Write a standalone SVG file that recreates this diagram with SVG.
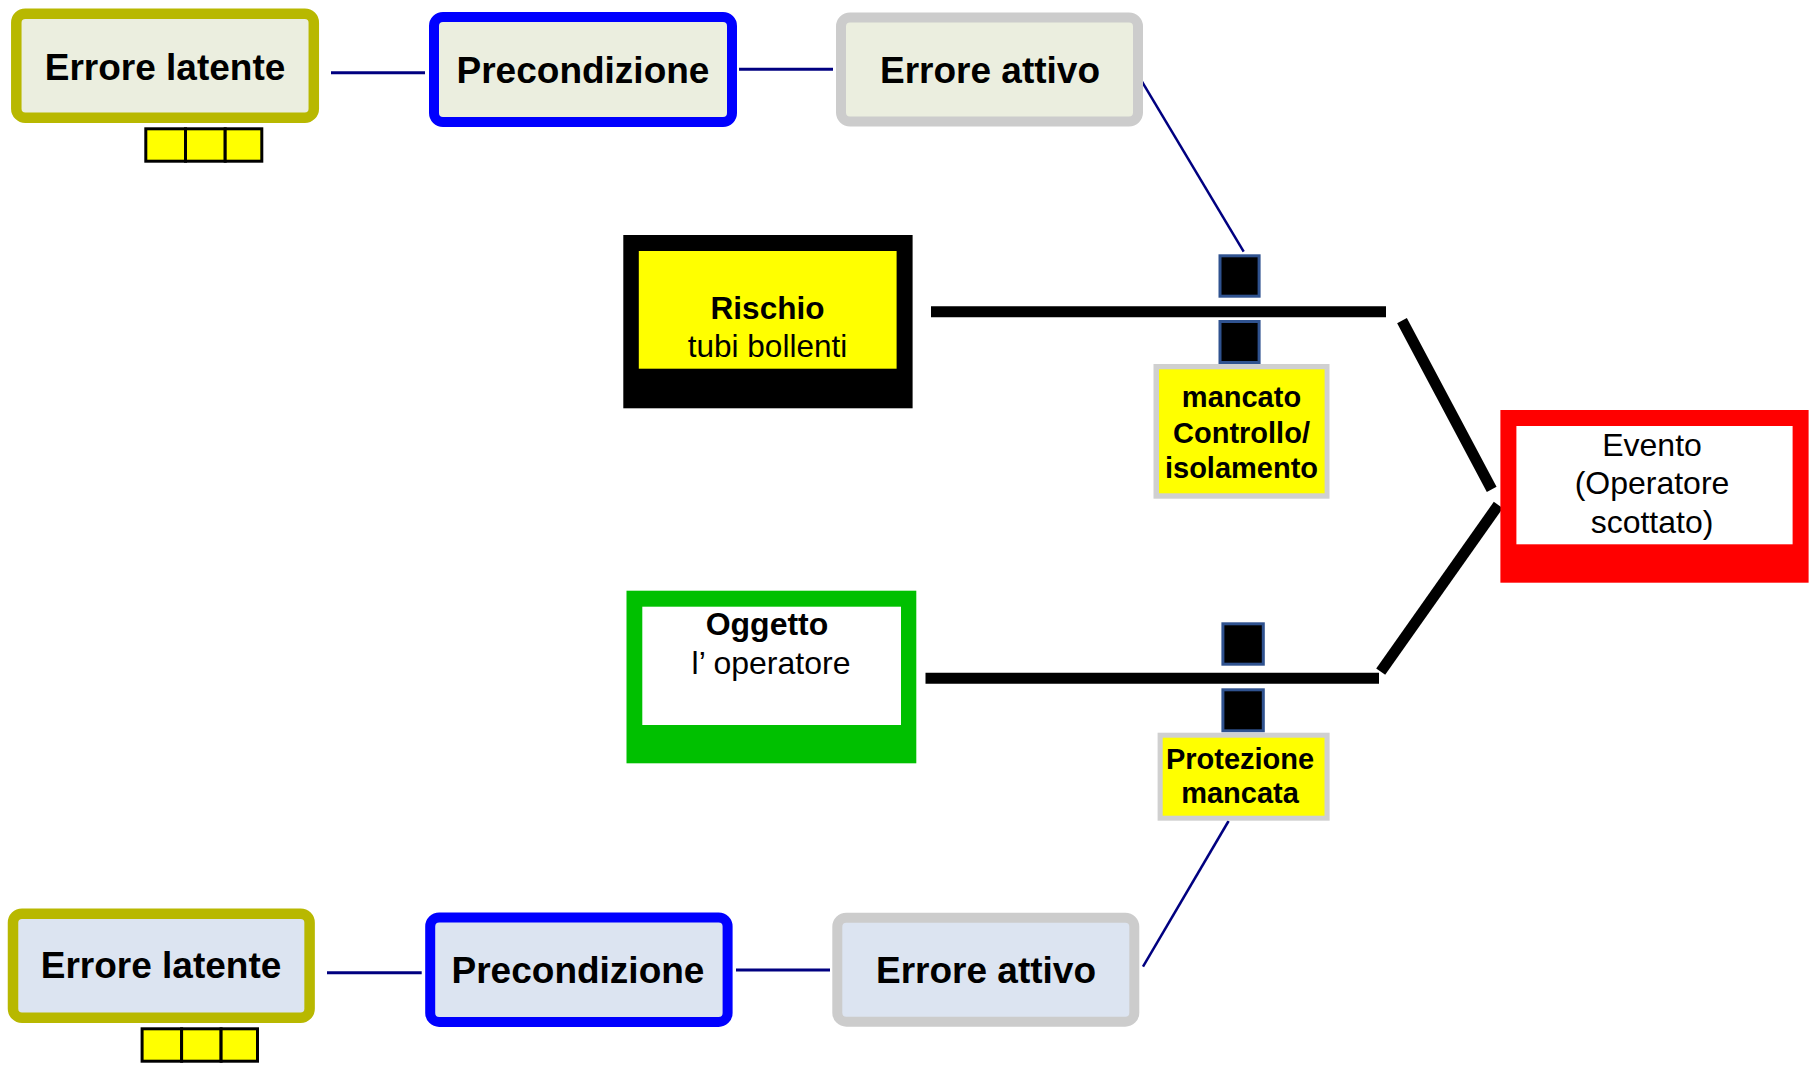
<svg xmlns="http://www.w3.org/2000/svg" width="1814" height="1072" viewBox="0 0 1814 1072">
  <style>
    text { font-family: "Liberation Sans", Arial, sans-serif; fill: #000; text-anchor: middle; }
    .big { font-size: 37px; font-weight: bold; }
    .lbl { font-size: 29px; font-weight: bold; }
    .b32 { font-size: 31.5px; font-weight: bold; }
    .r32 { font-size: 32px; }
    .latent { stroke: #B8B800; stroke-width: 10.5; }
    .precond { stroke: #0000FF; stroke-width: 10; }
    .active { stroke: #CCCCCC; stroke-width: 10; }
    .top { fill: #EBEEDF; }
    .bottom { fill: #DCE4F1; }
    .cell { fill: #FFFF00; stroke: #000; stroke-width: 3; }
    .barrier { fill: #000; stroke: #2F528F; stroke-width: 3; }
    .link { stroke: #000080; stroke-width: 3; fill: none; }
    .diag { stroke: #000080; stroke-width: 2.5; fill: none; }
    .thick { stroke: #000; stroke-width: 11; fill: none; }
  </style>

  <!-- connectors -->
  <g id="connectors">
    <line class="link" x1="331" y1="72.7" x2="425" y2="72.7"/>
    <line class="link" x1="739" y1="69.3" x2="833" y2="69.3"/>
    <line class="diag" x1="1142" y1="81.7" x2="1243.7" y2="251.7"/>
    <line class="link" x1="327" y1="972.7" x2="421.7" y2="972.7"/>
    <line class="link" x1="736" y1="970" x2="830" y2="970"/>
    <line class="diag" x1="1143" y1="966.7" x2="1228.6" y2="821"/>
    <line class="thick" x1="931" y1="311.7" x2="1386" y2="311.7"/>
    <line class="thick" x1="1402" y1="320.7" x2="1491.7" y2="489.3"/>
    <line class="thick" x1="925.5" y1="678.3" x2="1379" y2="678.3"/>
    <line class="thick" x1="1380.7" y1="671.7" x2="1498.3" y2="505"/>
  </g>

  <!-- upper chain -->
  <g id="latent-top">
    <rect class="latent top" x="16.3" y="13.7" width="297.5" height="104" rx="9"/>
    <text class="big" x="165" y="80">Errore latente</text>
  </g>
  <g id="latent-top-cells">
    <rect class="cell" x="145.8" y="128.8" width="39.7" height="32.4"/>
    <rect class="cell" x="185.5" y="128.8" width="39.7" height="32.4"/>
    <rect class="cell" x="225.2" y="128.8" width="36.6" height="32.4"/>
  </g>
  <g id="precond-top">
    <rect class="precond top" x="434" y="17" width="298" height="105" rx="9"/>
    <text class="big" x="583" y="83">Precondizione</text>
  </g>
  <g id="active-top">
    <rect class="active top" x="841" y="17.5" width="297" height="104" rx="9"/>
    <text class="big" x="990" y="83.3">Errore attivo</text>
  </g>

  <!-- hazard -->
  <g id="rischio">
    <rect x="623.3" y="235" width="289.3" height="173.3" fill="#000"/>
    <rect x="638.8" y="251" width="257.8" height="117.7" fill="#FFFF00"/>
    <text class="b32" x="767.5" y="319">Rischio</text>
    <text class="r32" x="767.5" y="356.7" style="font-size:31.5px">tubi bollenti</text>
  </g>

  <!-- barriers on the hazard path -->
  <g id="barrier-top">
    <rect class="barrier" x="1220" y="255.8" width="39.1" height="40.4"/>
    <rect class="barrier" x="1220" y="321.5" width="39.1" height="41"/>
  </g>
  <g id="mancato">
    <rect x="1153.5" y="364" width="176" height="134.7" fill="#D0D0D0"/>
    <rect x="1159" y="369.3" width="165.6" height="124" fill="#FFFF00"/>
    <text class="lbl" x="1241.5" y="406.7">mancato</text>
    <text class="lbl" x="1241.5" y="442.5">Controllo/</text>
    <text class="lbl" x="1241.5" y="477.5">isolamento</text>
  </g>

  <!-- target -->
  <g id="oggetto">
    <rect x="626.5" y="590.7" width="289.8" height="172.6" fill="#00C000"/>
    <rect x="642.3" y="606.7" width="258.7" height="118.3" fill="#FFFFFF"/>
    <text class="b32" x="767" y="635" style="font-size:32px">Oggetto</text>
    <text class="r32" x="771" y="674">l’ operatore</text>
  </g>

  <!-- barriers on the target path -->
  <g id="barrier-bottom">
    <rect class="barrier" x="1222.9" y="623.8" width="40.4" height="40.4"/>
    <rect class="barrier" x="1222.9" y="689.8" width="40.4" height="41"/>
  </g>
  <g id="protezione">
    <rect x="1157.6" y="732.7" width="172" height="88" fill="#D0D0D0"/>
    <rect x="1162.7" y="737.7" width="161.8" height="78" fill="#FFFF00"/>
    <text class="lbl" x="1240" y="769.3">Protezione</text>
    <text class="lbl" x="1240" y="803.3">mancata</text>
  </g>

  <!-- outcome -->
  <g id="evento">
    <rect x="1500.4" y="410" width="308.2" height="172.7" fill="#FF0000"/>
    <rect x="1516.4" y="426" width="276.2" height="118.3" fill="#FFFFFF"/>
    <text class="r32" x="1652" y="455.7">Evento</text>
    <text class="r32" x="1652" y="494.3">(Operatore</text>
    <text class="r32" x="1652" y="532.7">scottato)</text>
  </g>

  <!-- lower chain -->
  <g id="latent-bottom">
    <rect class="latent bottom" x="13" y="913.7" width="296.6" height="104" rx="9"/>
    <text class="big" x="161" y="978.3">Errore latente</text>
  </g>
  <g id="latent-bottom-cells">
    <rect class="cell" x="142.1" y="1028.8" width="39.5" height="32.4"/>
    <rect class="cell" x="181.6" y="1028.8" width="39.5" height="32.4"/>
    <rect class="cell" x="221.1" y="1028.8" width="36.4" height="32.4"/>
  </g>
  <g id="precond-bottom">
    <rect class="precond bottom" x="430.2" y="917.5" width="297.4" height="104.4" rx="9"/>
    <text class="big" x="578" y="983.3">Precondizione</text>
  </g>
  <g id="active-bottom">
    <rect class="active bottom" x="837.3" y="917.7" width="297" height="104" rx="9"/>
    <text class="big" x="986" y="983.3">Errore attivo</text>
  </g>
</svg>
